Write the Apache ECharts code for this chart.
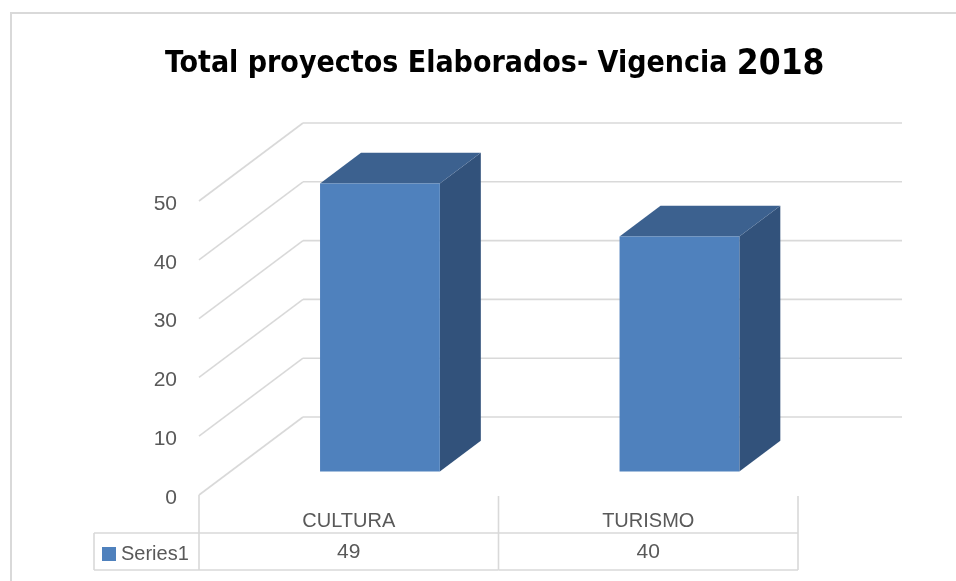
<!DOCTYPE html>
<html lang="es">
<head>
<meta charset="UTF-8">
<title>Total proyectos Elaborados</title>
<script src="https://cdn.jsdelivr.net/npm/echarts@6/dist/echarts.min.js"></script>
</head>
<body style="margin:0">
<div id="chart" style="width:956px;height:581px"></div>
<script>
var categories = ['CULTURA', 'TURISMO'];
var values = [49, 40];
var seriesName = 'Series1';
var yTicks = [0, 10, 20, 30, 40, 50];

// falso 3D: desplazamiento de la pared del fondo
var DX = 104, DY = -78;
var BAR_D0 = 0.3, BAR_D1 = 0.694, BAR_W = 0.4;
var gridColor = '#d9d9d9';
var textColor = '#595959';
var font = '"Liberation Sans", Arial, sans-serif';

var chart = echarts.init(document.getElementById('chart'));

function line(x1, y1, x2, y2) {
    return {
        type: 'line',
        shape: { x1: x1, y1: y1, x2: x2, y2: y2 },
        style: { stroke: gridColor, lineWidth: 1.6 }
    };
}

// lineas de la pared lateral y del fondo + etiquetas del eje
function wallItem(params, api) {
    var cs = params.coordSys;
    var v = api.value(1);
    var y = api.coord([0, v])[1];
    var x0 = cs.x, x1 = cs.x + cs.width;
    return {
        type: 'group',
        children: [
            line(x0, y, x0 + DX, y + DY),
            line(x0 + DX, y + DY, x1 + DX, y + DY),
            {
                type: 'text',
                style: { text: String(v), x: x0 - 22, y: y + 3, align: 'right', verticalAlign: 'middle',
                    fill: textColor, font: '21px ' + font }
            }
        ]
    };
}

function barItem(params, api) {
    var idx = api.value(0);
    var c0 = api.coord([idx, 0]);
    var c1 = api.coord([idx, api.value(1)]);
    var bw = api.size([1, 0])[0] * BAR_W;
    var left = c0[0] - bw / 2 + DX * BAR_D0;
    var right = left + bw;
    var bottom = c0[1] + DY * BAR_D0;
    var top = c1[1] + DY * BAR_D0;
    var ox = DX * (BAR_D1 - BAR_D0), oy = DY * (BAR_D1 - BAR_D0);
    return {
        type: 'group',
        children: [
            {
                type: 'polygon',
                shape: { points: [[right, top], [right + ox, top + oy], [right + ox, bottom + oy], [right, bottom]] },
                style: { fill: '#32527b' }
            },
            {
                type: 'polygon',
                shape: { points: [[left, top], [right, top], [right + ox, top + oy], [left + ox, top + oy]] },
                style: { fill: '#3c618f' }
            },
            {
                type: 'rect',
                shape: { x: left, y: top, width: bw, height: bottom - top },
                style: { fill: '#4f81bd' }
            }
        ]
    };
}

function tableItem(params, api) {
    var idx = api.value(0);
    var base = api.coord([idx, 0]);
    var cx = base[0], y0 = base[1];
    var bandW = api.size([1, 0])[0];
    var left = cx - bandW / 2, right = cx + bandW / 2;
    var rowTop = y0 + 38, rowBottom = y0 + 75;
    var children = [
        line(right, y0 + 1, right, rowBottom),
        line(left, rowTop, right, rowTop),
        line(left, rowBottom, right, rowBottom),
        {
            type: 'text',
            style: { text: categories[idx], x: cx, y: y0 + 26, align: 'center', verticalAlign: 'middle',
                fill: textColor, font: '20px ' + font }
        },
        {
            type: 'text',
            style: { text: String(api.value(1)), x: cx, y: y0 + 57, align: 'center', verticalAlign: 'middle',
                fill: textColor, font: '21px ' + font }
        }
    ];
    if (idx === 0) {
        var legLeft = left - 105;
        children.push(line(left, y0, left, rowBottom));
        children.push(line(legLeft, rowTop, left, rowTop));
        children.push(line(legLeft, rowBottom, left, rowBottom));
        children.push(line(legLeft, rowTop, legLeft, rowBottom));
    }
    return { type: 'group', children: children };
}

var option = {
    backgroundColor: '#ffffff',
    animation: false,
    title: {
        text: '{a|Total proyectos Elaborados- Vigencia }{b|2018}',
        left: 160,
        top: 42,
        textStyle: {
            rich: {
                a: { fontSize: 30, fontWeight: 'bold', color: '#000000',
                    fontFamily: '"Liberation Sans Narrow", "DejaVu Sans Condensed", "Liberation Sans", sans-serif' },
                b: { fontSize: 35, fontWeight: 'bold', color: '#000000',
                    fontFamily: '"Liberation Sans Narrow", "DejaVu Sans Condensed", "Liberation Sans", sans-serif' }
            }
        }
    },
    legend: {
        data: [seriesName],
        left: 102,
        top: 544,
        padding: 0,
        icon: 'rect',
        itemWidth: 14,
        itemHeight: 14,
        itemGap: 0,
        selectedMode: false,
        textStyle: { fontSize: 20, color: textColor, fontFamily: font }
    },
    grid: {
        left: 199,
        right: 158,
        top: 201,
        bottom: 86,
        containLabel: false
    },
    xAxis: {
        type: 'category',
        data: categories,
        axisLine: { show: false },
        axisTick: { show: false },
        axisLabel: { show: false },
        splitLine: { show: false }
    },
    yAxis: {
        type: 'value',
        min: 0,
        max: 50,
        interval: 10,
        axisLine: { show: false },
        axisTick: { show: false },
        splitLine: { show: false },
        axisLabel: { show: false }
    },
    series: [
        {
            type: 'custom',
            silent: true,
            z: 1,
            renderItem: wallItem,
            data: yTicks.map(function (v) { return [0, v]; })
        },
        {
            name: seriesName,
            type: 'custom',
            z: 3,
            itemStyle: { color: '#4f81bd' },
            renderItem: barItem,
            data: values.map(function (v, i) { return [i, v]; })
        },
        {
            type: 'custom',
            silent: true,
            z: 2,
            renderItem: tableItem,
            data: values.map(function (v, i) { return [i, v]; })
        }
    ],
    graphic: [
        {
            type: 'polyline',
            shape: { points: [[11, 581], [11, 13], [956, 13]] },
            style: { stroke: gridColor, lineWidth: 2, fill: null }
        }
    ]
};

chart.setOption(option);
</script>
</body>
</html>
